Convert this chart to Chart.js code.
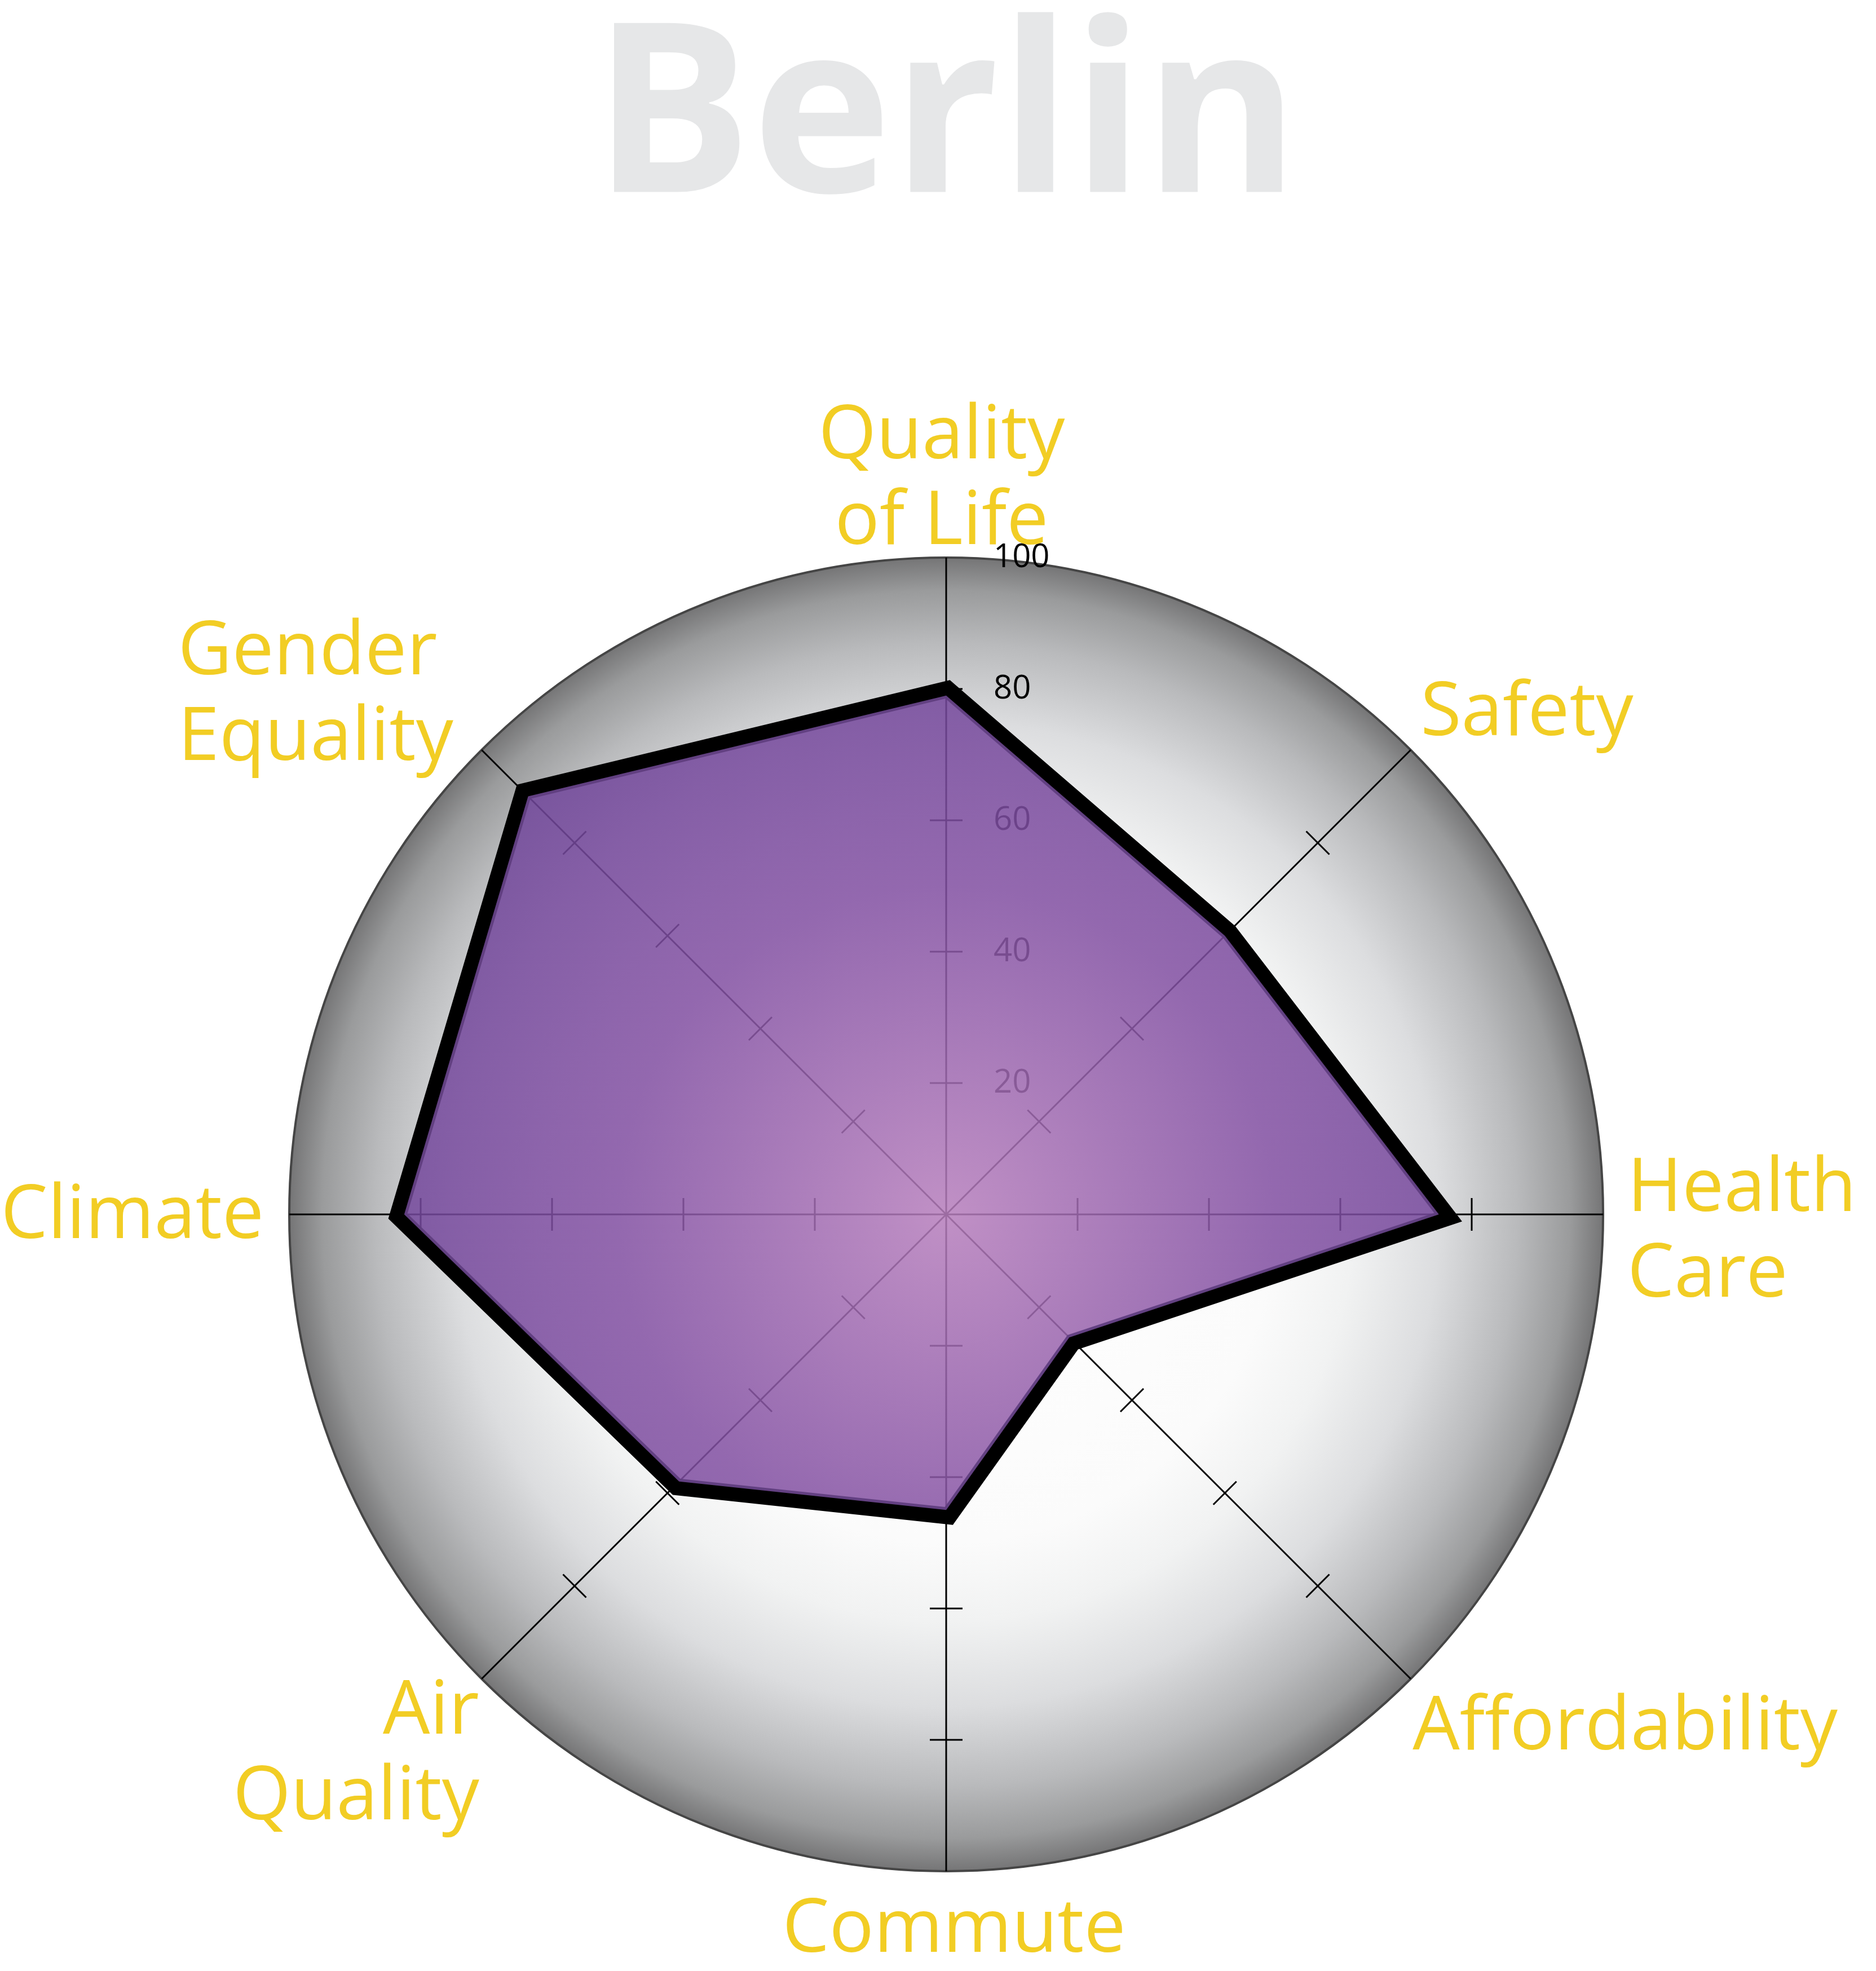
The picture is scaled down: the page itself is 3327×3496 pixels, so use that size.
<!DOCTYPE html>
<html>
<head>
<meta charset="utf-8">
<script src="https://cdn.jsdelivr.net/npm/chart.js@4/dist/chart.umd.min.js"></script>
<style>
  html, body { margin: 0; padding: 0; background: #ffffff; }
  #wrap { width: 3327px; height: 3496px; position: relative; }
</style>
</head>
<body>
<div id="wrap"><canvas id="c"></canvas></div>
<script>
// ---------- data ----------
const cityTitle = 'Berlin';
const categories = [
  ['Quality', 'of Life'],
  'Safety',
  ['Health', 'Care'],
  'Affordability',
  'Commute',
  ['Air', 'Quality'],
  'Climate',
  ['Gender', 'Equality']
];
const scores = [79, 60, 75, 26.5, 45, 57.5, 82.5, 90];
const tickValues = [0, 20, 40, 60, 80, 100];
const tickLabels = ['', '20', '40', '60', '80', '100'];

// ---------- styles ----------
const labelStyle = {
  pad: 36,
  font: '400 132px "Open Sans"',
  lineHeight: 152,
  color: '#F2CD24',
  lineAlign: ['center', 'left', 'left', 'left', 'center', 'right', 'right', 'left'],
  nudge: [[-8, 50], [-8, 38], [7, 32], [-22, -14], [14, -7], [21, -42], [-9, 4], [-25, 82]]
};

function fillGradient(chart) {
  const s = chart.scales && chart.scales.r;
  if (!s || !isFinite(s.xCenter) || !s.drawingArea) return 'rgba(140,95,170,0.85)';
  const g = chart.ctx.createRadialGradient(s.xCenter, s.yCenter, 0, s.xCenter, s.yCenter, s.drawingArea);
  g.addColorStop(0, 'rgba(182,126,188,0.86)');
  g.addColorStop(0.5, 'rgba(130,80,162,0.86)');
  g.addColorStop(0.9, 'rgba(112,70,154,0.86)');
  g.addColorStop(1, 'rgba(108,66,150,0.86)');
  return g;
}

const discBackground = {
  id: 'discBackground',
  beforeDraw(chart) {
    const s = chart.scales.r, ctx = chart.ctx;
    const x = s.xCenter, y = s.yCenter, R = s.drawingArea;
    const g = ctx.createRadialGradient(x, y, 0, x, y, R);
    g.addColorStop(0, '#ffffff');
    g.addColorStop(0.5, '#fbfbfb');
    g.addColorStop(0.62, '#f1f2f2');
    g.addColorStop(0.75, '#dcdddf');
    g.addColorStop(0.87, '#b9babc');
    g.addColorStop(0.95, '#9a9b9c');
    g.addColorStop(1, '#757576');
    ctx.save();
    ctx.beginPath();
    ctx.arc(x, y, R, 0, Math.PI * 2);
    ctx.fillStyle = g;
    ctx.fill();
    ctx.restore();
  }
};

const axisTicks = {
  id: 'axisTicks',
  beforeDatasetsDraw(chart) {
    const s = chart.scales.r, ctx = chart.ctx;
    ctx.save();
    ctx.strokeStyle = '#000';
    ctx.lineWidth = 3;
    const half = 29;
    for (let i = 0; i < categories.length; i++) {
      const a = s.getIndexAngle(i) - Math.PI / 2;
      const nx = -Math.sin(a), ny = Math.cos(a);
      tickValues.forEach(v => {
        if (v <= 0 || v >= 100) return;
        const p = s.getPointPositionForValue(i, v);
        ctx.beginPath();
        ctx.moveTo(p.x - nx * half, p.y - ny * half);
        ctx.lineTo(p.x + nx * half, p.y + ny * half);
        ctx.stroke();
      });
    }
    // tick labels along the first axis
    ctx.fillStyle = '#000';
    ctx.font = '400 58px "Open Sans"';
    ctx.textAlign = 'left';
    ctx.textBaseline = 'middle';
    tickValues.forEach((v, k) => {
      if (!tickLabels[k]) return;
      const p = s.getPointPositionForValue(0, v);
      ctx.fillText(tickLabels[k], p.x + 84, p.y);
    });
    ctx.restore();
  }
};

const outsideStroke = {
  id: 'outsideStroke',
  beforeDatasetDraw(chart, args) {
    if (args.index !== 1) return;
    const pts = chart.getDatasetMeta(0).data;
    const ctx = chart.ctx;
    ctx.save();
    ctx.beginPath();
    ctx.rect(0, 0, chart.width, chart.height);
    pts.forEach((p, k) => { if (k === 0) ctx.moveTo(p.x, p.y); else ctx.lineTo(p.x, p.y); });
    ctx.closePath();
    ctx.clip('evenodd');
  },
  afterDatasetDraw(chart, args) {
    if (args.index !== 1) return;
    chart.ctx.restore();
  }
};

const categoryLabels = {
  id: 'categoryLabels',
  afterDatasetsDraw(chart) {
    const s = chart.scales.r, ctx = chart.ctx;
    const st = labelStyle;
    ctx.save();
    ctx.font = st.font;
    ctx.fillStyle = st.color;
    ctx.textBaseline = 'middle';
    categories.forEach((lab, i) => {
      const lines = Array.isArray(lab) ? lab : [lab];
      const p = s.getPointPosition(i, s.drawingArea + st.pad);
      const deg = Math.round(s.getIndexAngle(i) * 180 / Math.PI) % 360;
      const w = Math.max(...lines.map(l => ctx.measureText(l).width));
      const h = lines.length * st.lineHeight;
      let left = (deg === 0 || deg === 180) ? p.x - w / 2 : (deg < 180 ? p.x : p.x - w);
      let top = (deg === 90 || deg === 270) ? p.y - h / 2 : ((deg < 90 || deg > 270) ? p.y - h : p.y);
      left += st.nudge[i][0];
      top += st.nudge[i][1];
      const al = st.lineAlign[i];
      lines.forEach((l, j) => {
        const x = al === 'center' ? left + w / 2 : (al === 'right' ? left + w : left);
        ctx.textAlign = al;
        ctx.fillText(l, x, top + st.lineHeight * (j + 0.5));
      });
    });
    ctx.restore();
  }
};

new Chart(document.getElementById('c'), {
  type: 'radar',
  data: {
    labels: categories,
    datasets: [
      {
        label: cityTitle,
        data: scores,
        fill: true,
        backgroundColor: (c) => fillGradient(c.chart),
        borderColor: 'rgba(96,62,128,0.95)',
        borderWidth: 10,
        pointRadius: 0,
        pointHoverRadius: 0,
        order: 1
      },
      {
        label: cityTitle + ' outline',
        data: scores,
        fill: false,
        borderColor: '#000000',
        borderWidth: 50,
        borderJoinStyle: 'miter',
        pointRadius: 0,
        pointHoverRadius: 0,
        order: 0
      }
    ]
  },
  options: {
    responsive: true,
    maintainAspectRatio: false,
    animation: false,
    devicePixelRatio: 1,
    layout: { padding: { left: 513, right: 484, top: 0, bottom: 176 } },
    plugins: {
      legend: { display: false },
      tooltip: { enabled: false },
      title: {
        display: true,
        text: cityTitle,
        color: '#e6e7e8',
        font: { family: '"Open Sans"', size: 420, weight: 700, lineHeight: 1.052 },
        padding: { top: 0, bottom: 548 }
      }
    },
    scales: {
      r: {
        min: 0,
        max: 100,
        afterBuildTicks: (scale) => { scale.ticks = tickValues.map(v => ({ value: v })); },
        ticks: { display: false },
        pointLabels: { display: false },
        angleLines: { display: true, color: '#000000', lineWidth: 3 },
        grid: {
          circular: true,
          lineWidth: 4,
          color: (c) => (c.tick && c.tick.value === 100) ? '#454545' : 'rgba(0,0,0,0)'
        }
      }
    }
  },
  plugins: [discBackground, axisTicks, outsideStroke, categoryLabels]
});
</script>
</body>
</html>
